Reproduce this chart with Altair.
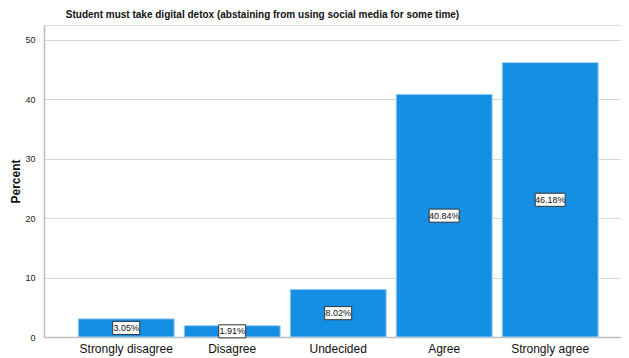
import altair as alt
import pandas as pd

categories = ["Strongly disagree", "Disagree", "Undecided", "Agree", "Strongly agree"]
percents = [3.05, 1.91, 8.02, 40.84, 46.18]

df = pd.DataFrame({"cat": categories, "pct": percents})

FONT = "Liberation Sans"
W, H = 577, 312

x_enc = alt.X(
    "cat:N",
    sort=categories,
    title=None,
    scale=alt.Scale(paddingInner=0.094, paddingOuter=0.269, align=0.6),
    axis=alt.Axis(
        labelAngle=0, labelFontSize=12, labelColor="#111", labelFont=FONT,
        ticks=False, domainColor="#bdbdbd", domainWidth=1.5, labelPadding=6,
        grid=False,
    ),
)

base = alt.Chart(df).transform_calculate(
    label="format(datum.pct, '.2f') + '%'",
    mid="datum.pct / 2",
    lo="datum.pct / 2 - 1.1",
    hi="datum.pct / 2 + 1.1",
    boxw="3 * length(format(datum.pct, '.2f') + '%') + 12",
)

y_scale = alt.Scale(domain=[0, 52.5], nice=False)

bars = base.mark_bar(color="#148fe4", stroke="#a9d5f6", strokeWidth=1).encode(
    x=x_enc,
    y=alt.Y(
        "pct:Q",
        scale=y_scale,
        title="Percent",
        axis=alt.Axis(
            values=[0, 10, 20, 30, 40, 50], ticks=False, labelFontSize=9,
            labelColor="#222", labelFont=FONT, labelPadding=9,
            domainColor="#bdbdbd", domainWidth=1.5,
            gridColor="#d9d9d9", gridWidth=1,
            titleFont=FONT, titleFontSize=12, titleFontWeight="bold",
            titleColor="#111", titleX=-29, titleY=H / 2, titleAngle=-90,
            titleAlign="center", titleBaseline="middle",
        ),
    ),
)

boxes = base.mark_bar(color="white", stroke="#333", strokeWidth=1).encode(
    x=alt.X("cat:N", sort=categories),
    y=alt.Y("lo:Q", scale=y_scale),
    y2="hi:Q",
    size=alt.Size("boxw:Q", scale=None, legend=None),
)

texts = base.mark_text(fontSize=9, font=FONT, color="#111", baseline="middle").encode(
    x=alt.X("cat:N", sort=categories),
    y=alt.Y("mid:Q", scale=y_scale),
    text="label:N",
)

chart = alt.layer(bars, boxes, texts).properties(
    width=W,
    height=H,
    autosize=alt.AutoSizeParams(type="none"),
    padding={"left": 36, "top": 17, "right": 0, "bottom": 20},
    title=alt.Title(
        "Student must take digital detox (abstaining from using social media for some time)",
        font=FONT, fontSize=10, fontWeight="bold", color="#111",
        anchor="middle", dx=-70, offset=5,
    ),
).configure_view(stroke=None).configure(background="white")

chart.save("out.html", embed_options={"renderer": "svg", "actions": False})
